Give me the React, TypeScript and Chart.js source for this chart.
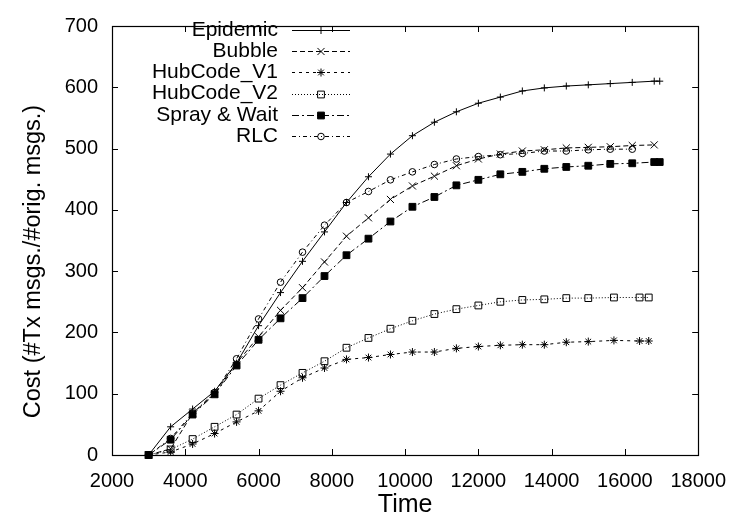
import React, { useEffect, useRef } from 'react';
import { Chart, registerables } from 'chart.js';
import { drawPoint } from 'chart.js/helpers';

Chart.register(...registerables);

const FONT = '"Liberation Sans", Arial, Helvetica, sans-serif';

const xTickValues = [2000, 4000, 6000, 8000, 10000, 12000, 14000, 16000, 18000];
const yTickValues = [0, 100, 200, 300, 400, 500, 600, 700];

const seriesNames = ['Epidemic', 'Bubble', 'HubCode_V1', 'HubCode_V2', 'Spray & Wait', 'RLC'];

const epidemicTimes = [3000, 3600, 4200, 4800, 5400, 6000, 6600, 7200, 7800, 8400, 9000, 9600, 10200, 10800, 11400, 12000, 12600, 13200, 13800, 14400, 15000, 15600, 16200, 16800, 16950];
const epidemicCost = [0, 46, 75, 104, 150, 211, 265, 316, 364, 412, 454, 491, 521, 543, 560, 574, 584, 594, 599, 602, 604, 606, 608, 610, 610];

const bubbleTimes = [3000, 3600, 4200, 4800, 5400, 6000, 6600, 7200, 7800, 8400, 9000, 9600, 10200, 10800, 11400, 12000, 12600, 13200, 13800, 14400, 15000, 15600, 16200, 16800];
const bubbleCost = [0, 10, 68, 100, 150, 193, 236, 273, 315, 357, 387, 417, 439, 455, 472, 483, 491, 496, 498, 501, 502, 503, 505, 506];

const hubTimes = [3000, 3600, 4200, 4800, 5400, 6000, 6600, 7200, 7800, 8400, 9000, 9600, 10200, 10800, 11400, 12000, 12600, 13200, 13800, 14400, 15000, 15700, 16400, 16650];
const hubV1Cost = [0, 5, 18, 35, 54, 72, 104, 126, 142, 156, 159, 164, 168, 168, 174, 177, 179, 180, 180, 184, 185, 187, 186, 186];
const hubV2Cost = [0, 9, 26, 46, 66, 92, 114, 134, 153, 175, 191, 206, 219, 230, 238, 244, 250, 253, 254, 256, 256, 257, 257, 257];

const sprayTimes = [3000, 3600, 4200, 4800, 5400, 6000, 6600, 7200, 7800, 8400, 9000, 9600, 10200, 10800, 11400, 12000, 12600, 13200, 13800, 14400, 15000, 15600, 16200, 16800, 16950];
const sprayCost = [0, 25, 66, 99, 146, 188, 223, 256, 292, 326, 353, 381, 405, 421, 440, 449, 458, 462, 467, 470, 472, 475, 476, 478, 478];

const rlcTimes = [3000, 3600, 4200, 4800, 5400, 6000, 6600, 7200, 7800, 8400, 9000, 9600, 10200, 10800, 11400, 12000, 12600, 13200, 13800, 14400, 15000, 15600, 16200];
const rlcCost = [0, 27, 68, 102, 157, 222, 282, 331, 375, 412, 430, 449, 462, 474, 483, 487, 490, 492, 496, 496, 498, 499, 499];

const zip = (xs: number[], ys: number[]) => xs.map((x, i) => ({ x, y: ys[i] }));

const framePlugin = {
  id: 'frameTicks',
  afterDraw(chart: any) {
    const { ctx, chartArea: a, scales } = chart;
    const xs = scales.x;
    const ys = scales.y;
    const tl = 6;
    ctx.save();
    ctx.strokeStyle = '#000';
    ctx.lineWidth = 1;
    ctx.setLineDash([]);
    ctx.beginPath();
    xTickValues.forEach((v) => {
      const px = Math.round(xs.getPixelForValue(v)) + 0.5;
      ctx.moveTo(px, a.bottom);
      ctx.lineTo(px, a.bottom - tl);
      ctx.moveTo(px, a.top);
      ctx.lineTo(px, a.top + tl);
    });
    yTickValues.forEach((v) => {
      const py = Math.round(ys.getPixelForValue(v)) + 0.5;
      ctx.moveTo(a.left, py);
      ctx.lineTo(a.left + tl, py);
      ctx.moveTo(a.right, py);
      ctx.lineTo(a.right - tl, py);
    });
    ctx.stroke();
    ctx.lineWidth = 1.2;
    ctx.strokeRect(Math.round(a.left) + 0.5, Math.round(a.top) + 0.5, Math.round(a.right - a.left), Math.round(a.bottom - a.top));

    // axis titles
    ctx.fillStyle = '#000';
    ctx.font = `25px ${FONT}`;
    ctx.textAlign = 'center';
    ctx.textBaseline = 'middle';
    ctx.fillText('Time', (a.left + a.right) / 2, 505);
    ctx.font = `23.5px ${FONT}`;
    ctx.translate(34, (a.top + a.bottom) / 2 + 21);
    ctx.rotate(-Math.PI / 2);
    ctx.fillText('Cost (#Tx msgs./#orig. msgs.)', 0, 0);
    ctx.restore();
  },
};

const legendPlugin = {
  id: 'customLegend',
  afterDraw(chart: any) {
    const ctx = chart.ctx;
    ctx.save();
    chart.data.datasets.forEach((ds: any, i: number) => {
      const y = 30 + i * 21.2;
      ctx.fillStyle = '#000';
      ctx.font = `21px ${FONT}`;
      ctx.textAlign = 'right';
      ctx.textBaseline = 'middle';
      ctx.fillText(ds.label, 278, y);
      ctx.strokeStyle = '#000';
      ctx.lineWidth = 1;
      ctx.setLineDash(ds.borderDash || []);
      ctx.beginPath();
      ctx.moveTo(292, Math.round(y) + 0.5);
      ctx.lineTo(350, Math.round(y) + 0.5);
      ctx.stroke();
      ctx.setLineDash([]);
      ctx.fillStyle = ds.pointBackgroundColor;
      ctx.strokeStyle = '#000';
      drawPoint(ctx, { pointStyle: ds.pointStyle, radius: ds.pointRadius, rotation: 0, borderWidth: 1 } as any, 321, Math.round(y) + 0.5);
    });
    ctx.restore();
  },
};

export default function App() {
  const ref = useRef<HTMLCanvasElement | null>(null);
  useEffect(() => {
    if (!ref.current) return;
    const common = {
      borderColor: '#000',
      borderWidth: 1,
      pointBorderColor: '#000',
      pointBorderWidth: 1,
      tension: 0,
      fill: false,
      clip: false as any,
    };
    const chart = new Chart(ref.current, {
      type: 'line',
      data: {
        datasets: [
          { ...common, label: seriesNames[0], data: zip(epidemicTimes, epidemicCost), pointStyle: 'cross', pointRadius: 3.5, pointBackgroundColor: 'rgba(0,0,0,0)', borderDash: [] },
          { ...common, label: seriesNames[1], data: zip(bubbleTimes, bubbleCost), pointStyle: 'crossRot', pointRadius: 5, pointBackgroundColor: 'rgba(0,0,0,0)', borderDash: [5, 3] },
          { ...common, label: seriesNames[2], data: zip(hubTimes, hubV1Cost), pointStyle: 'star', pointRadius: 4, pointBackgroundColor: 'rgba(0,0,0,0)', borderDash: [3, 4] },
          { ...common, label: seriesNames[3], data: zip(hubTimes, hubV2Cost), pointStyle: 'rect', pointRadius: 4.8, pointBackgroundColor: 'rgba(255,255,255,0)', borderDash: [1, 2] },
          { ...common, label: seriesNames[4], data: zip(sprayTimes, sprayCost), pointStyle: 'rect', pointRadius: 4.8, pointBackgroundColor: '#000', borderDash: [7, 3, 2, 3] },
          { ...common, label: seriesNames[5], data: zip(rlcTimes, rlcCost), pointStyle: 'circle', pointRadius: 3.3, pointBackgroundColor: 'rgba(0,0,0,0)', borderDash: [4, 3, 1, 3] },
        ],
      },
      options: {
        animation: false,
        responsive: true,
        maintainAspectRatio: false,
        layout: { padding: { left: 0, right: 33, top: 13, bottom: 0 } },
        plugins: { legend: { display: false }, tooltip: { enabled: false } },
        scales: {
          x: {
            type: 'linear',
            min: 2000,
            max: 18000,
            grid: { display: false, drawTicks: false },
            border: { display: false },
            ticks: { stepSize: 2000, color: '#000', font: { family: FONT, size: 20 }, padding: 14, maxRotation: 0, autoSkip: false, callback: (v: any) => String(v) },
            afterFit: (s: any) => { s.height = 67; },
          },
          y: {
            type: 'linear',
            min: 0,
            max: 700,
            grid: { display: false, drawTicks: false },
            border: { display: false },
            ticks: { stepSize: 100, color: '#000', font: { family: FONT, size: 20 }, padding: 14, callback: (v: any) => String(v) },
            afterFit: (s: any) => { s.width = 112; },
          },
        },
      },
      plugins: [framePlugin, legendPlugin],
    });
    return () => chart.destroy();
  }, []);
  return (
    <div style={{ position: 'absolute', left: 0, top: 0, width: 740, height: 522, background: '#fff' }}>
      <canvas ref={ref} />
    </div>
  );
}
